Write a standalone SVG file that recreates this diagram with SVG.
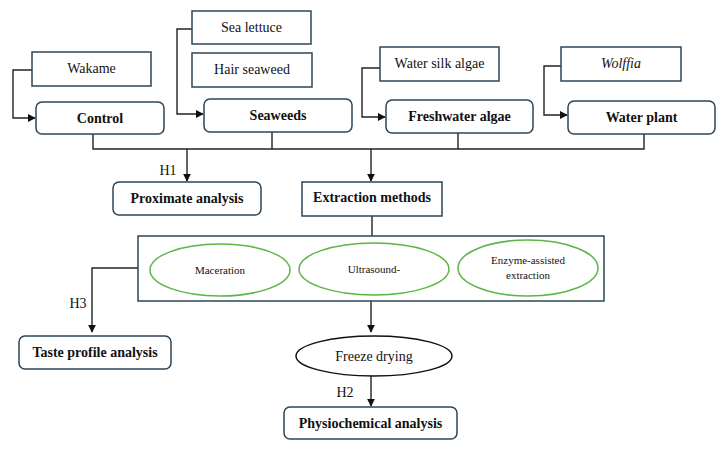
<svg xmlns="http://www.w3.org/2000/svg" width="725" height="449" viewBox="0 0 725 449" font-family="'Liberation Serif', 'DejaVu Serif', serif">
<style>
.box{fill:#fff;stroke:#2b4557;stroke-width:1.5}
.ell{fill:#fff;stroke:#5cb545;stroke-width:1.5}
.fd{fill:#fff;stroke:#111;stroke-width:1.5}
.ln{fill:none;stroke:#222;stroke-width:1.4}
text{fill:#111;text-anchor:middle}
.b{font-weight:bold;font-size:14px}
.n{font-size:14px}
.s{font-size:11px}
</style>
<defs>
<marker id="ar" viewBox="0 0 10 10" refX="9" refY="5" markerWidth="8" markerHeight="8" markerUnits="userSpaceOnUse" orient="auto">
<path d="M0,0 L10,5 L0,10 z" fill="#111"/>
</marker>
</defs>
<rect width="725" height="449" fill="#fff"/>
<g id="connectors">
<path class="ln" d="M32,70 H13 V118 H35" marker-end="url(#ar)"/>
<path class="ln" d="M192,29 H177 V114 H203" marker-end="url(#ar)"/>
<path class="ln" d="M380,68 H362 V117 H385" marker-end="url(#ar)"/>
<path class="ln" d="M561,66 H544 V115 H567" marker-end="url(#ar)"/>
<path class="ln" d="M93,134 V149 H644 V134"/>
<path class="ln" d="M272,132 V149"/>
<path class="ln" d="M458,133 V149"/>
<path class="ln" d="M187,149 V181" marker-end="url(#ar)"/>
<path class="ln" d="M371,149 V181" marker-end="url(#ar)"/>
<path class="ln" d="M372,216 V236"/>
<path class="ln" d="M138,268 H92 V332" marker-end="url(#ar)"/>
<path class="ln" d="M371,301 V332" marker-end="url(#ar)"/>
<path class="ln" d="M371,376 V406" marker-end="url(#ar)"/>
<text class="n" x="168" y="175">H1</text>
<text class="n" x="78" y="308">H3</text>
<text class="n" x="345" y="397">H2</text>
</g>
<g id="wakame"><rect class="box" x="32" y="52" width="119" height="34"/><text class="n" x="91.5" y="73">Wakame</text></g>
<g id="control"><rect class="box" x="36" y="102" width="128" height="32" rx="6"/><text class="b" x="100" y="123">Control</text></g>
<g id="sea-lettuce"><rect class="box" x="192" y="11" width="119" height="33"/><text class="n" x="251.5" y="32">Sea lettuce</text></g>
<g id="hair-seaweed"><rect class="box" x="192" y="53" width="120" height="34"/><text class="n" x="252" y="74">Hair seaweed</text></g>
<g id="seaweeds"><rect class="box" x="204" y="99" width="148" height="33" rx="6"/><text class="b" x="278" y="120">Seaweeds</text></g>
<g id="water-silk-algae"><rect class="box" x="380" y="47" width="119" height="34"/><text class="n" x="439.5" y="68">Water silk algae</text></g>
<g id="freshwater-algae"><rect class="box" x="386" y="100" width="147" height="33" rx="6"/><text class="b" x="459.5" y="121">Freshwater algae</text></g>
<g id="wolffia"><rect class="box" x="561" y="47" width="120" height="34"/><text class="n" x="621" y="68" font-style="italic">Wolffia</text></g>
<g id="water-plant"><rect class="box" x="568" y="101" width="147" height="33" rx="6"/><text class="b" x="641.5" y="122">Water plant</text></g>
<g id="proximate-analysis"><rect class="box" x="113" y="182" width="148" height="33" rx="6"/><text class="b" x="187" y="203">Proximate analysis</text></g>
<g id="extraction-methods"><rect class="box" x="302" y="182" width="140" height="34"/><text class="b" x="372" y="202">Extraction methods</text></g>
<g id="methods-group"><rect class="box" x="138" y="236" width="466" height="65"/></g>
<g id="maceration"><ellipse class="ell" cx="220" cy="270" rx="70" ry="26"/><text class="s" x="220" y="274">Maceration</text></g>
<g id="ultrasound"><ellipse class="ell" cx="374" cy="269" rx="75" ry="26"/><text class="s" x="374" y="273">Ultrasound-</text></g>
<g id="enzyme"><ellipse class="ell" cx="528" cy="268" rx="70" ry="28"/><text class="s" x="528" y="264">Enzyme-assisted</text><text class="s" x="528" y="279">extraction</text></g>
<g id="taste-profile"><rect class="box" x="19" y="336" width="152" height="33" rx="6"/><text class="b" x="95" y="357">Taste profile analysis</text></g>
<g id="freeze-drying"><ellipse class="fd" cx="374" cy="356" rx="78" ry="20"/><text class="n" x="374" y="361">Freeze drying</text></g>
<g id="physiochemical"><rect class="box" x="284" y="407" width="173" height="32" rx="6"/><text class="b" x="370.5" y="428">Physiochemical analysis</text></g>
</svg>
